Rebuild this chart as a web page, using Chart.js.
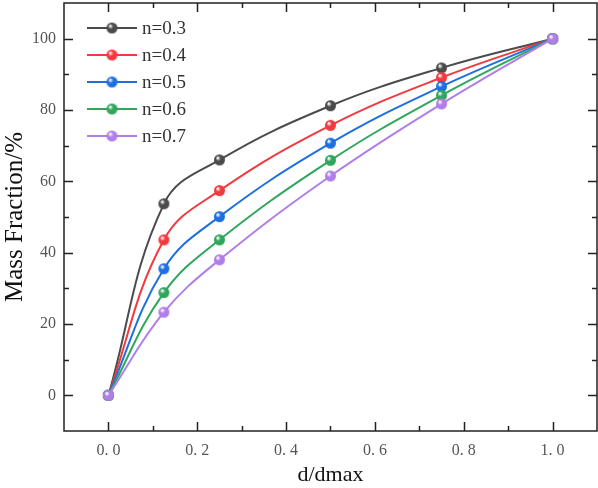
<!DOCTYPE html>
<html>
<head>
<meta charset="utf-8">
<script src="https://cdn.jsdelivr.net/npm/chart.js@4/dist/chart.umd.min.js"></script>
<style>
html,body{margin:0;padding:0;background:#fff;}
#wrap{width:598px;height:488px;position:relative;}
</style>
</head>
<body>
<div id="wrap"><canvas id="c" width="598" height="488"></canvas></div>
<script>
const xValues = [0, 0.125, 0.25, 0.5, 0.75, 1.0];
const seriesLabels = ["n=0.3", "n=0.4", "n=0.5", "n=0.6", "n=0.7"];
const n03 = [0, 53.7, 66.0, 81.2, 91.8, 100];
const n04 = [0, 43.6, 57.4, 75.7, 89.1, 100];
const n05 = [0, 35.5, 50.1, 70.7, 86.6, 100];
const n06 = [0, 28.8, 43.6, 65.9, 84.1, 100];
const n07 = [0, 23.3, 38.0, 61.5, 81.7, 100];
const seriesValues = [n03, n04, n05, n06, n07];
const xTickLabels = ["0. 0", "0. 2", "0. 4", "0. 6", "0. 8", "1. 0"];
const yTickLabels = ["0", "20", "40", "60", "80", "100"];

const colors = ["#4b4b4b", "#f23a3e", "#1e6fe0", "#2fa65c", "#b07ee8"];

function makeBall(color, r) {
  const s = r * 2 + 2;
  const cv = document.createElement('canvas');
  cv.width = s; cv.height = s;
  const g = cv.getContext('2d');
  const cx = s / 2, cy = s / 2;
  const grad = g.createRadialGradient(cx - r * 0.35, cy - r * 0.4, r * 0.1, cx, cy, r);
  grad.addColorStop(0, 'rgba(255,255,255,0.95)');
  grad.addColorStop(0.4, color);
  grad.addColorStop(1, color);
  g.beginPath();
  g.arc(cx, cy, r, 0, Math.PI * 2);
  g.fillStyle = grad;
  g.fill();
  return cv;
}

const datasets = seriesValues.map((vals, i) => ({
  label: seriesLabels[i],
  data: xValues.map((x, j) => ({x: x, y: vals[j]})),
  borderColor: colors[i],
  backgroundColor: colors[i],
  borderWidth: 2,
  pointStyle: makeBall(colors[i], 5.5),
  pointRadius: 5.5,
  tension: 0.4,
  fill: false,
  order: seriesValues.length - 1 - i
}));

const frameTicks = {
  id: 'frameTicks',
  afterDraw(chart) {
    const ctx = chart.ctx;
    const a = chart.chartArea;
    const xs = chart.scales.x, ys = chart.scales.y;
    ctx.save();
    ctx.strokeStyle = '#222';
    ctx.lineWidth = 1.5;
    ctx.strokeRect(a.left, a.top, a.right - a.left, a.bottom - a.top);
    for (let k = -1; k <= 11; k++) {
      const v = k / 10;
      const major = k % 2 === 0;
      const len = major ? 9 : 5;
      const px = Math.round(xs.getPixelForValue(v)) + 0.5;
      if (px <= a.left + 1 || px >= a.right - 1) continue;
      ctx.beginPath();
      ctx.moveTo(px, a.bottom); ctx.lineTo(px, a.bottom - len);
      ctx.moveTo(px, a.top); ctx.lineTo(px, a.top + len);
      ctx.stroke();
    }
    for (let k = -1; k <= 11; k++) {
      const v = k * 10;
      const major = k % 2 === 0;
      const len = major ? 9 : 5;
      const py = Math.round(ys.getPixelForValue(v)) + 0.5;
      if (py <= a.top + 1 || py >= a.bottom - 1) continue;
      ctx.beginPath();
      ctx.moveTo(a.left, py); ctx.lineTo(a.left + len, py);
      ctx.moveTo(a.right, py); ctx.lineTo(a.right - len, py);
      ctx.stroke();
    }
    // legend
    ctx.font = '19px "Liberation Serif"';
    ctx.textBaseline = 'middle';
    ctx.textAlign = 'left';
    chart.data.datasets.forEach((d, i) => {
      const y = 28 + i * 27;
      ctx.strokeStyle = d.borderColor;
      ctx.lineWidth = 2;
      ctx.beginPath();
      ctx.moveTo(87, y); ctx.lineTo(137, y);
      ctx.stroke();
      ctx.drawImage(d.pointStyle, 112 - d.pointStyle.width / 2, y - d.pointStyle.height / 2);
      ctx.fillStyle = '#333';
      ctx.fillText(d.label, 142, y + 1);
    });
    ctx.restore();
  }
};

new Chart(document.getElementById('c'), {
  type: 'line',
  data: {datasets: datasets},
  options: {
    responsive: false,
    animation: false,
    layout: {autoPadding: false, padding: {top: 3, right: 1, left: 0, bottom: 0}},
    plugins: {legend: {display: false}, tooltip: {enabled: false}},
    scales: {
      x: {
        type: 'linear', min: -0.1, max: 1.1,
        afterFit(s) { s.height = 57; s.paddingLeft = 0; s.paddingRight = 0; },
        grid: {display: false, drawTicks: false},
        border: {display: false},
        afterBuildTicks(s) { s.ticks = xTickLabels.map((t, i) => ({value: i * 0.2})); },
        ticks: {
          callback: (v, i) => xTickLabels[i],
          color: '#555', font: {family: 'Liberation Serif', size: 16}, padding: 10, maxRotation: 0
        },
        title: {display: true, text: 'd/dmax', color: '#111', font: {family: 'Liberation Serif', size: 22}, padding: {top: 2, bottom: 0}}
      },
      y: {
        type: 'linear', min: -10, max: 110,
        afterFit(s) { s.width = 64; s.paddingTop = 0; s.paddingBottom = 0; },
        grid: {display: false, drawTicks: false},
        border: {display: false},
        afterBuildTicks(s) { s.ticks = yTickLabels.map(t => ({value: Number(t)})); },
        ticks: {
          callback: (v, i) => yTickLabels[i],
          color: '#555', font: {family: 'Liberation Serif', size: 16}, padding: 8
        },
        title: {display: true, text: 'Mass Fraction/%', color: '#111', font: {family: 'Liberation Serif', size: 25}, padding: {top: 0, bottom: 2}}
      }
    }
  },
  plugins: [frameTicks]
});
</script>
</body>
</html>
